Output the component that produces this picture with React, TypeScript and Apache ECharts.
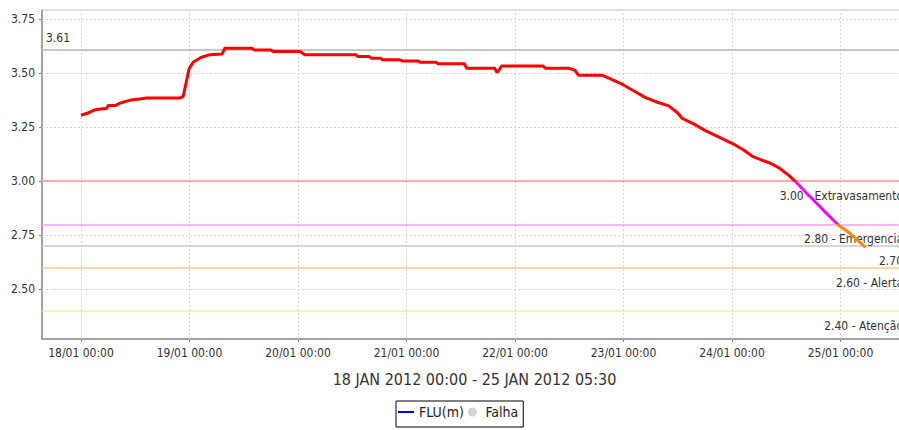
import React, { useEffect, useRef } from 'react';
import * as echarts from 'echarts';

// ---- data ----
const BASE_UTC = Date.UTC(2012, 0, 18, 0, 0);
const HOUR_MS = 3600000;

// hours after 18/01/2012 00:00
const hoursFromStart = [
  0.0, 1.5, 3.0, 5.0, 5.6, 6.0, 7.6, 8.5, 9.6, 11.0, 13.0, 14.5, 22.0, 22.6, 23.3, 23.9,
  24.8, 26.5, 28.5, 31.2, 31.8, 37.8, 38.3, 42.0, 42.5, 48.5, 49.5, 60.8, 61.2, 63.7, 64.2,
  66.3, 66.7, 70.5, 71.0, 74.6, 75.0, 78.5, 79.0, 84.8, 85.3, 91.5, 92.0, 92.5, 93.0, 102.2,
  102.7, 108.0, 109.3, 110.0, 115.2, 117.5, 120.0, 122.5, 125.0, 127.5, 130.0, 132.0, 133.0,
  135.5, 138.0, 141.0, 144.0, 146.5, 148.5, 150.5, 152.5, 154.5, 156.5, 158.3, 160.5, 162.7,
  164.9, 167.5, 170.0, 173.5,
];
const fluLevels = [
  3.305, 3.315, 3.330, 3.335, 3.335, 3.350, 3.350, 3.360, 3.367, 3.375, 3.380, 3.385, 3.385, 3.392, 3.460, 3.520,
  3.550, 3.572, 3.585, 3.588, 3.615, 3.615, 3.607, 3.607, 3.600, 3.600, 3.585, 3.585, 3.577, 3.577, 3.569,
  3.569, 3.561, 3.561, 3.556, 3.556, 3.550, 3.550, 3.543, 3.543, 3.522, 3.522, 3.503, 3.515, 3.533, 3.533,
  3.522, 3.522, 3.512, 3.490, 3.490, 3.470, 3.445, 3.415, 3.385, 3.365, 3.348, 3.315, 3.290,
  3.265, 3.235, 3.205, 3.175, 3.145, 3.115, 3.098, 3.083, 3.060, 3.028, 2.993, 2.944, 2.898,
  2.851, 2.797, 2.760, 2.694,
];

const dayTickHours = [0, 24, 48, 72, 96, 120, 144, 168];
const yTickValues = [2.5, 2.75, 3.0, 3.25, 3.5, 3.75];
const xRangeHours = [-8.63, 182.7];
const yRange = [2.27, 3.7916];

const thresholdValues = [3.61, 3.0, 2.8, 2.7, 2.6, 2.4];
const thresholdLabels = ['3.61', '3.00 - Extravasamento', '2.80 - Emergencia', '2.70', '2.60 - Alerta', '2.40 - Atenção'];

const seriesNames = ['FLU(m)', 'Falha'];
const axisTitle = '18 JAN 2012 00:00 - 25 JAN 2012 05:30';

// ---- styles ----
const thresholdColors = ['#b4b4b4', '#f29a9a', '#fb9cfb', '#c8c8c8', '#ffc890', '#fbee8a'];
const FONT = "'DejaVu Sans Condensed', 'Liberation Sans Narrow', 'DejaVu Sans', sans-serif";

const toTs = (h: number) => BASE_UTC + h * HOUR_MS;
const pad2 = (n: number) => (n < 10 ? '0' + n : '' + n);
const fmtTick = (v: number) => {
  const d = new Date(v);
  return `${pad2(d.getUTCDate())}/${pad2(d.getUTCMonth() + 1)} ${pad2(d.getUTCHours())}:${pad2(d.getUTCMinutes())}`;
};

export default function App() {
  const ref = useRef<HTMLDivElement>(null);

  useEffect(() => {
    document.body.style.margin = '0';
    if (!ref.current) return;
    const chart = echarts.init(ref.current, undefined, { renderer: 'svg' });

    const lineData = hoursFromStart.map((h, i) => [toTs(h), fluLevels[i]]);
    const dayTs = dayTickHours.map(toTs);

    const gridMarks: any[] = [
      ...dayTs.map((t) => ({ xAxis: t })),
      ...yTickValues.map((v) => ({ yAxis: v })),
    ].map((d) => ({
      ...d,
      lineStyle: { color: '#d4d4d4', type: [2, 2], width: 1 },
      label: { show: false },
    }));

    const thresholdMarks: any[] = thresholdValues.map((v, i) => ({
      yAxis: v,
      lineStyle: { color: thresholdColors[i], type: 'solid', width: 1.5 },
      label: {
        show: true,
        formatter: thresholdLabels[i],
        position: i === 0 ? 'insideStartTop' : 'insideEndBottom',
        distance: i === 0 ? [4, 5] : [4, 9],
        color: '#333',
        fontSize: 12,
        fontFamily: FONT,
      },
    }));

    chart.setOption({
      animation: false,
      textStyle: { fontFamily: FONT },
      grid: {
        left: 42,
        top: 10,
        width: 865,
        bottom: 91,
        show: true,
        borderColor: '#c4c4c4',
        borderWidth: 1,
        containLabel: false,
        outerBoundsMode: 'none',
      },
      legend: {
        data: [
          {
            name: seriesNames[0],
            icon: 'path://M0,4 L16,4 L16,6 L0,6 Z',
            itemStyle: { color: '#0000ff' },
          },
          { name: seriesNames[1], icon: 'circle', itemStyle: { color: '#c8c8c8' } },
        ],
        left: 396,
        top: 401,
        padding: [4, 5, 8, 2],
        itemGap: 4,
        itemWidth: 16,
        itemHeight: 9,
        borderColor: '#000',
        borderWidth: 1,
        textStyle: { fontSize: 14, color: '#222', fontFamily: FONT },
      },
      visualMap: {
        show: false,
        type: 'piecewise',
        seriesIndex: 0,
        dimension: 1,
        pieces: [
          { gt: 3.0, color: '#ff0000' },
          { gt: 2.8, lte: 3.0, color: '#ff00ff' },
          { lte: 2.8, color: '#ff8a00' },
        ],
      },
      xAxis: {
        type: 'value',
        min: toTs(xRangeHours[0]),
        max: toTs(xRangeHours[1]),
        name: axisTitle,
        nameLocation: 'middle',
        nameGap: 32,
        nameTextStyle: { fontSize: 16, color: '#333', fontFamily: FONT },
        axisLine: { show: true, lineStyle: { color: '#8c8c8c', width: 1.5 } },
        axisTick: { show: true, customValues: dayTs, length: 3, lineStyle: { color: '#8c8c8c' } },
        axisLabel: {
          customValues: dayTs,
          formatter: (v: number) => fmtTick(v),
          fontSize: 12,
          color: '#333',
          margin: 8,
          fontFamily: FONT,
        },
        splitLine: { show: false },
      },
      yAxis: {
        type: 'value',
        min: yRange[0],
        max: yRange[1],
        axisLine: { show: true, lineStyle: { color: '#8c8c8c', width: 1.5 } },
        axisTick: { show: true, customValues: yTickValues, length: 3, lineStyle: { color: '#8c8c8c' } },
        axisLabel: {
          customValues: yTickValues,
          formatter: (v: number) => v.toFixed(2),
          fontSize: 12,
          color: '#333',
          margin: 7,
          fontFamily: FONT,
        },
        splitLine: { show: false },
      },
      series: [
        {
          name: seriesNames[0],
          type: 'line',
          data: lineData,
          symbol: 'none',
          color: '#0000ff',
          lineStyle: { width: 3 },
          z: 5,
        },
        {
          name: seriesNames[1],
          type: 'scatter',
          data: [],
          color: '#c8c8c8',
        },
        {
          name: 'marks',
          type: 'line',
          data: [],
          z: 1,
          silent: true,
          markLine: {
            silent: true,
            symbol: ['none', 'none'],
            animation: false,
            data: [...gridMarks, ...thresholdMarks],
          },
        },
      ],
    });

    return () => chart.dispose();
  }, []);

  return <div ref={ref} style={{ width: 899, height: 430 }} />;
}
